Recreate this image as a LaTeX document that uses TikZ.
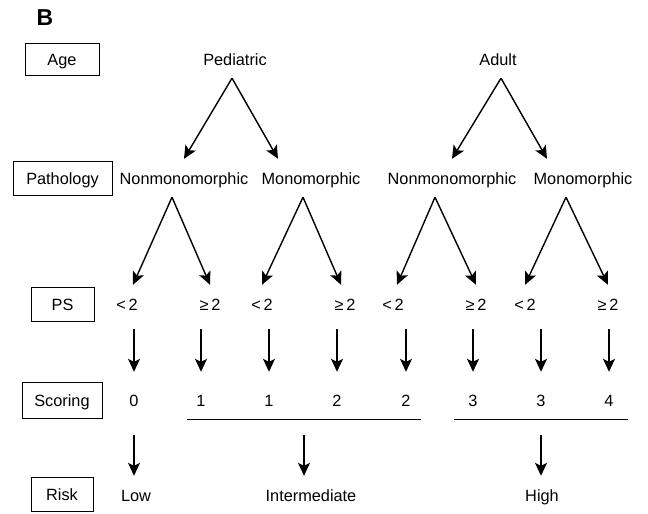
\documentclass[tikz,border=0pt]{standalone}
\usepackage{fontspec}
\setmainfont{Liberation Sans}
\usetikzlibrary{arrows.meta}
\tikzset{
  txt/.style={font=\fontsize{16.3}{18}\selectfont, text height=12pt, text depth=0pt, inner xsep=2pt, inner ysep=13pt},
  caja/.style={txt, draw, line width=0.9pt, inner ysep=0pt, minimum height=34pt},
  flecha/.style={-{Stealth[length=13pt,width=12pt,inset=3pt]}, line width=1.4pt},
}
\begin{document}
\begin{tikzpicture}[x=1pt,y=-1pt]
    \useasboundingbox (0,0) rectangle (648,514);
    % Letra del panel
    \node[font=\fontsize{23}{26}\selectfont\bfseries] (letra) at (45,18) {B};
    % Cajas de la izquierda
    \node[caja, minimum width=74pt, minimum height=32pt] (cAge) at (62,59) {Age};
    \node[caja, minimum width=99pt] (cPath) at (62.5,178.5) {Pathology};
    \node[caja, minimum width=63pt] (cPS) at (62.5,304.5) {PS};
    \node[caja, minimum width=80pt, minimum height=36pt] (cScore) at (62,400) {Scoring};
    \node[caja, minimum width=62pt] (cRisk) at (62,494) {Risk};
    % Edad
    \node[txt] (ped) at (235,59) {Pediatric};
    \node[txt] (adult) at (498,59) {Adult};
    % Patologia
    \node[txt] (nonL) at (184,178) {Nonmonomorphic};
    \node[txt] (monoL) at (311,178) {Monomorphic};
    \node[txt] (nonR) at (452,178) {Nonmonomorphic};
    \node[txt] (monoR) at (583,178) {Monomorphic};
    % PS
    \node[txt] (ps1) at (127,304) {<\,2};
    \node[txt] (ps2) at (210,304) {≥\,2};
    \node[txt] (ps3) at (262,304) {<\,2};
    \node[txt] (ps4) at (345,304) {≥\,2};
    \node[txt] (ps5) at (393,304) {<\,2};
    \node[txt] (ps6) at (476,304) {≥\,2};
    \node[txt] (ps7) at (525,304) {<\,2};
    \node[txt] (ps8) at (608,304) {≥\,2};
    % Puntaje
    \node[txt] (sc1) at (134,400) {0};
    \node[txt] (sc2) at (201,400) {1};
    \node[txt] (sc3) at (269,400) {1};
    \node[txt] (sc4) at (337,400) {2};
    \node[txt] (sc5) at (406,400) {2};
    \node[txt] (sc6) at (473,400) {3};
    \node[txt] (sc7) at (541,400) {3};
    \node[txt] (sc8) at (609,400) {4};
    % Riesgo
    \node[txt] (low) at (136,495) {Low};
    \node[txt] (inter) at (311,495) {Intermediate};
    \node[txt] (high) at (542,495) {High};
    % Flechas edad -> patologia
    \draw[flecha] ([xshift=-3pt]ped.south) -- (nonL.north);
    \draw[flecha] ([xshift=-3pt]ped.south) -- ([xshift=-33pt]monoL.north);
    \draw[flecha] ([xshift=3pt]adult.south) -- (nonR.north);
    \draw[flecha] ([xshift=3pt]adult.south) -- ([xshift=-36pt]monoR.north);
    % Flechas patologia -> PS
    \draw[flecha] ([xshift=-12pt]nonL.south) -- ([xshift=6pt]ps1.north);
    \draw[flecha] ([xshift=-12pt]nonL.south) -- (ps2.north);
    \draw[flecha] ([xshift=-8pt]monoL.south) -- (ps3.north);
    \draw[flecha] ([xshift=-8pt]monoL.south) -- ([xshift=-4pt]ps4.north);
    \draw[flecha] ([xshift=-17pt]nonR.south) -- ([xshift=4pt]ps5.north);
    \draw[flecha] ([xshift=-17pt]nonR.south) -- (ps6.north);
    \draw[flecha] ([xshift=-17pt]monoR.south) -- (ps7.north);
    \draw[flecha] ([xshift=-17pt]monoR.south) -- (ps8.north);
    % Flechas PS -> puntaje
    \foreach \i in {1,...,8}
        \draw[flecha, shorten <=6pt, shorten >=9pt] (sc\i |- ps\i.south) -- (sc\i.north);
    % Lineas de grupo
    \draw[line width=1.4pt] ([xshift=-14pt]sc2.south) -- coordinate (mInt) ([xshift=15pt]sc5.south);
    \draw[line width=1.4pt] ([xshift=-19pt]sc6.south) -- coordinate (mHigh) ([xshift=19pt]sc8.south);
    % Flechas puntaje -> riesgo
    \draw[flecha, shorten <=16pt] (sc1.south) -- (sc1.south |- low.north);
    \draw[flecha, shorten <=16pt] (mInt) -- (mInt |- inter.north);
    \draw[flecha, shorten <=16pt] (mHigh) -- (mHigh |- high.north);
\end{tikzpicture}
\end{document}
